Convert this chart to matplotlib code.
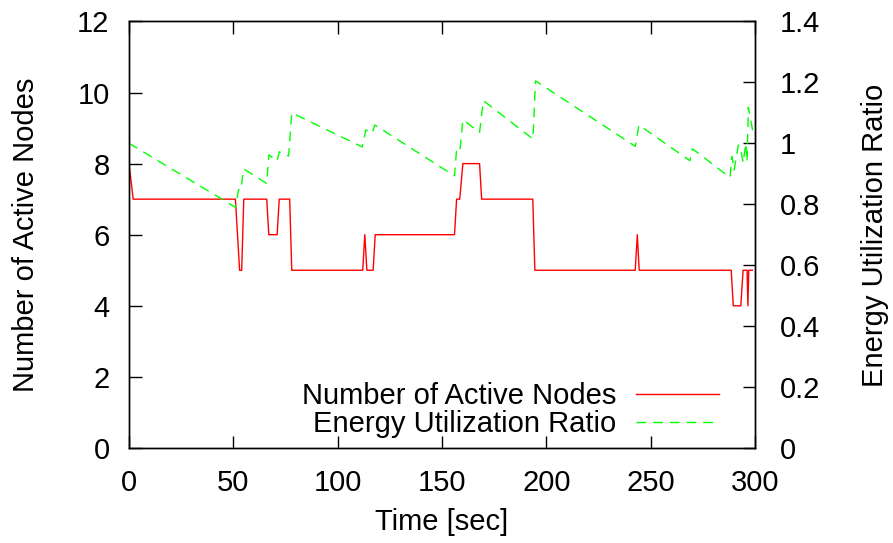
import matplotlib
matplotlib.use('Agg')
import matplotlib.pyplot as plt
from matplotlib.ticker import MultipleLocator, FormatStrFormatter

# number of active nodes over time (step-like samples)
node_time = [0, 2, 51, 53, 54, 55, 66, 67, 71, 72, 77, 78,
             112, 113, 114, 117, 118, 156, 157, 158.5, 160, 168, 169,
             193.5, 194.5, 242.6, 243.6, 244.5,
             288.6, 289.6, 293.2, 294.3, 296.2, 296.6, 297, 298.8]
node_count = [8, 7, 7, 5, 5, 7, 7, 6, 6, 7, 7, 5,
              5, 6, 5, 5, 6, 6, 7, 7, 8, 8, 7,
              7, 5, 5, 6, 5,
              5, 4, 4, 5, 5, 4, 5, 5]

# energy utilization ratio over time
ratio_time = [0, 51, 52.5, 53.5, 55, 66, 67, 71, 72, 76.5, 78,
              111.8, 113.5, 116.5, 117.8, 156, 157, 158.6, 160, 168, 169.8,
              193.6, 194.8, 242.6, 244.4, 268.8, 270, 288, 289, 290, 292,
              293, 294.3, 295.6, 296.2, 296.8, 299]
ratio_value = [1.0, 0.79, 0.848, 0.846, 0.916, 0.868, 0.962, 0.942, 0.972, 0.958, 1.10,
               0.988, 1.044, 1.033, 1.06, 0.893, 0.98, 0.975, 1.077, 1.036, 1.14,
               1.014, 1.205, 0.99, 1.06, 0.943, 0.982, 0.888, 0.956, 0.912, 0.994,
               0.985, 0.936, 1.0, 0.94, 1.118, 1.038]

plt.rcParams['font.family'] = ['Liberation Sans', 'DejaVu Sans']
plt.rcParams['font.size'] = 21

fig = plt.figure(figsize=(8.93, 5.43), dpi=100)
ax = fig.add_axes([129 / 893, 95 / 543, 626 / 893, 426.6 / 543])
ax2 = ax.twinx()

l1, = ax.plot(node_time, node_count, color='#ff0000', lw=1.0,
              label='Number of Active Nodes')
l2, = ax2.plot(ratio_time, ratio_value, color='#00ff00', lw=1.0,
               linestyle=(0, (7, 5)), label='Energy Utilization Ratio')

ax.set_xlim(0, 300)
ax.set_ylim(0, 12)
ax2.set_ylim(0, 1.4)
ax.xaxis.set_major_locator(MultipleLocator(50))
ax.yaxis.set_major_locator(MultipleLocator(2))
ax2.yaxis.set_major_locator(MultipleLocator(0.2))
ax2.yaxis.set_major_formatter(FormatStrFormatter('%g'))

ax.tick_params(axis='x', direction='in', length=9, width=1, top=True, pad=15)
ax.tick_params(axis='y', direction='in', length=9, width=1, right=False, pad=14)
ax2.tick_params(axis='y', direction='in', length=9, width=1, pad=18)
for a in (ax, ax2):
    for s in a.spines.values():
        s.set_linewidth(1.0)

fig.text(442 / 893, 1 - 522 / 543, 'Time [sec]', ha='center', va='center')
fig.text(26 / 893, 1 - 235 / 543, 'Number of Active Nodes', rotation=90,
         ha='center', va='center')
fig.text(875 / 893, 1 - 235 / 543, 'Energy Utilization Ratio', rotation=90,
         ha='center', va='center')

ax2.legend([l1, l2], [l1.get_label(), l2.get_label()], loc='lower right',
           bbox_to_anchor=(0.9425, 0.024), markerfirst=False, frameon=False,
           handlelength=2.85, handletextpad=0.68, labelspacing=0.0,
           borderpad=0, borderaxespad=0)

fig.savefig('out.png', dpi=100)
